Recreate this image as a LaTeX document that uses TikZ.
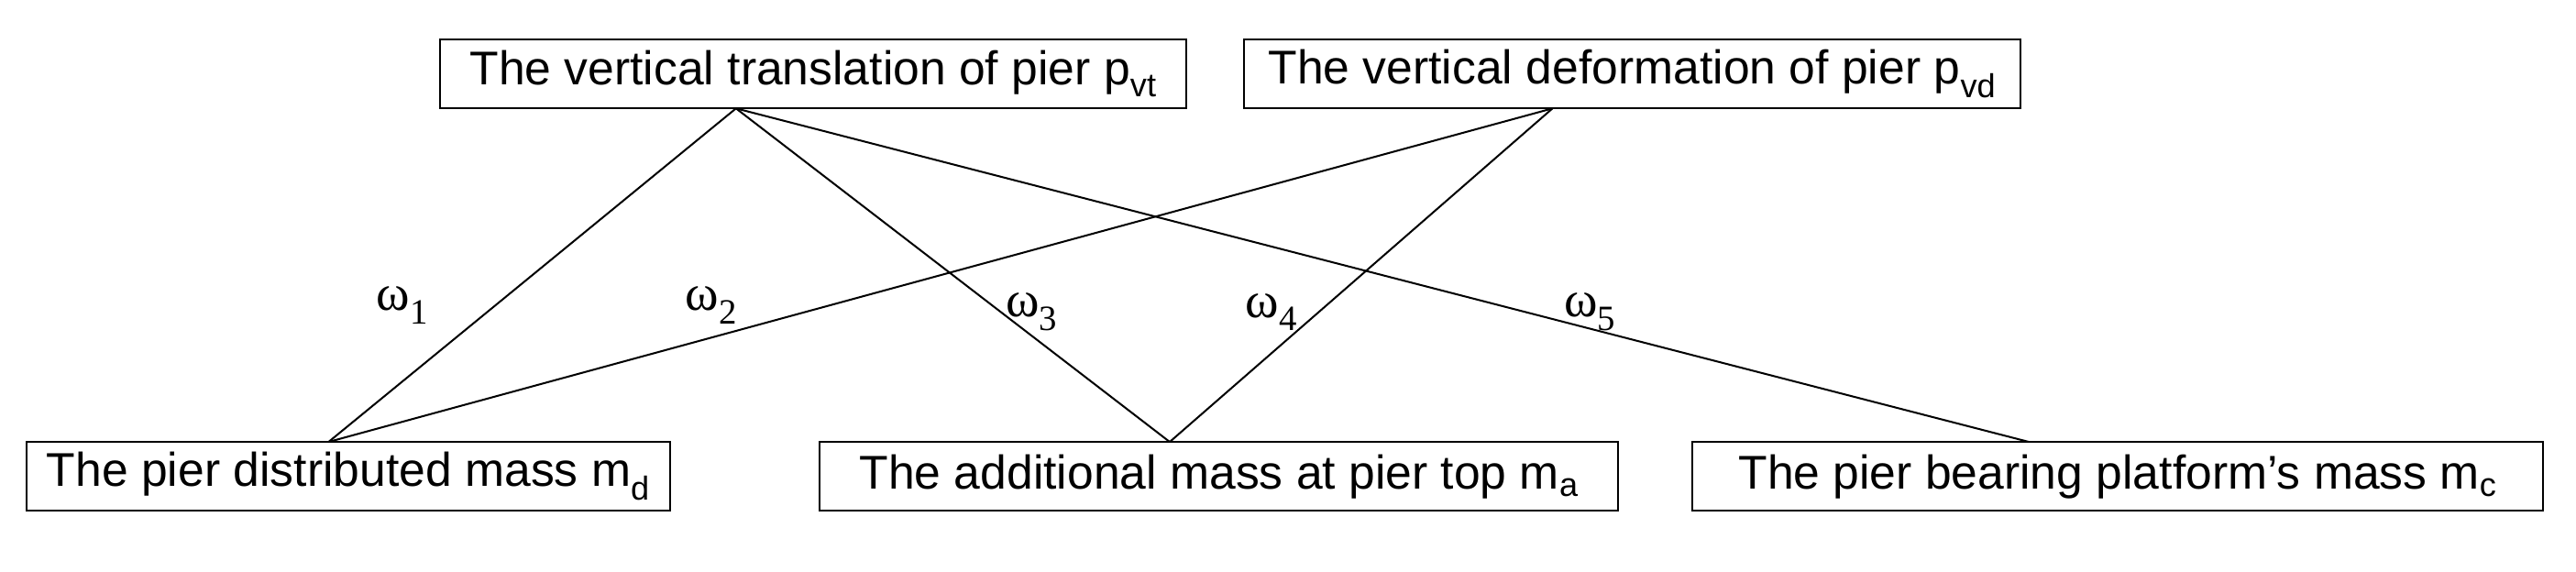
\documentclass[tikz,border=0pt]{standalone}
\usepackage{fontspec}
\setmainfont{Liberation Sans}
\newfontfamily\omf{Liberation Serif}
\begin{document}
\begin{tikzpicture}[x=0.05cm,y=-0.05cm,
  box/.style={draw,line width=1.6pt,inner sep=0pt,minimum height=2.1cm,font=\fontsize{41}{46}\selectfont},
  ln/.style={line width=1.6pt},
  lab/.style={font=\omf\fontsize{44}{48}\selectfont}]
\useasboundingbox (0,0) rectangle (1568,348);
\node[box,minimum width=22.7cm] (t1) at (495,45) {The vertical translation of pier p\textsubscript{vt}};
\node[box,minimum width=23.65cm] (t2) at (993.5,45) {The vertical deformation of pier p\textsubscript{vd}};
\node[box,minimum width=19.6cm] (b1) at (212,290) {The pier distributed mass m\textsubscript{d}};
\node[box,minimum width=24.3cm] (b2) at (742,290) {The additional mass at pier top m\textsubscript{a}};
\node[box,minimum width=25.9cm] (b3) at (1289,290) {The pier bearing platform{\char"0027}s mass m\textsubscript{c}};
\coordinate (a) at (448,66);
\coordinate (b) at (945,66);
\coordinate (c) at (200,269);
\coordinate (d) at (712,269);
\coordinate (e) at (1235,269);
\draw[ln] (a) -- (c);
\draw[ln] (a) -- (d);
\draw[ln] (a) -- (e);
\draw[ln] (b) -- (c);
\draw[ln] (b) -- (d);
\node[lab] (w1) at (245,186) {ω\textsubscript{1}};
\node[lab] (w2) at (433,186) {ω\textsubscript{2}};
\node[lab] (w3) at (628,190) {ω\textsubscript{3}};
\node[lab] (w4) at (774,190) {ω\textsubscript{4}};
\node[lab] (w5) at (968,190) {ω\textsubscript{5}};
\end{tikzpicture}
\end{document}
